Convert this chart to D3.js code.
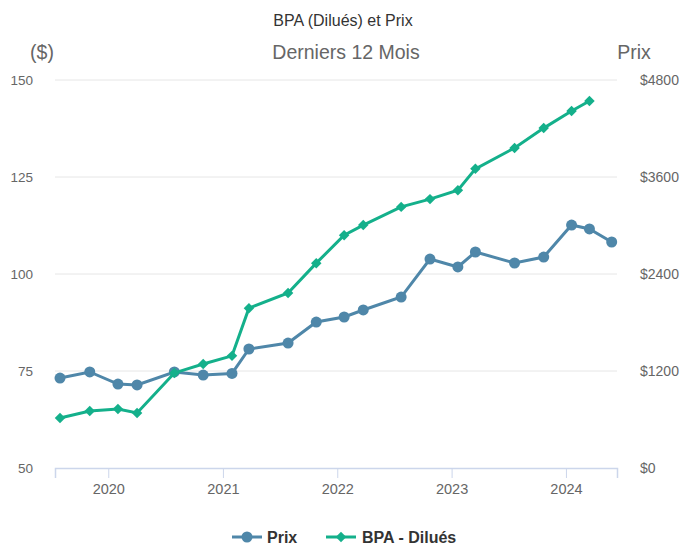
<!DOCTYPE html>
<html>
<head>
<meta charset="utf-8">
<script src="https://cdn.jsdelivr.net/npm/d3@7"></script>
<style>
  body { margin: 0; background: #fff; }
  text { font-family: "Liberation Sans", Arial, sans-serif; }
</style>
</head>
<body>
<div id="chart"></div>
<script>
// data
var priceDates = ["2019-07-31","2019-11-03","2020-02-01","2020-04-02","2020-07-30","2020-10-30","2021-01-30","2021-03-25","2021-07-28","2021-10-26","2022-01-23","2022-03-25","2022-07-24","2022-10-24","2023-01-21","2023-03-18","2023-07-21","2023-10-22","2024-01-19","2024-03-16","2024-05-26"];
var priceValues = [1113,1188,1039,1027,1188,1150,1170,1472,1546,1806,1868,1955,2115,2585,2487,2672,2536,2610,3006,2957,2796];
var epsDates = priceDates.slice(0, 20);
var epsValues = [62.9,64.7,65.2,64.2,74.5,76.8,78.9,91.2,95.1,102.8,110.0,112.6,117.3,119.3,121.6,127.1,132.5,137.6,142.0,144.6];
var leftTicks = [50, 75, 100, 125, 150];
var rightTicks = [0, 1200, 2400, 3600, 4800];
var seriesNames = ["Prix", "BPA - Dilués"];

var W = 685, H = 546;
var margin = {top: 80, right: 68, bottom: 78, left: 55},
    width = W - margin.left - margin.right,
    height = H - margin.top - margin.bottom;

var blue = "#4f87a9", green = "#14b08b";
var parse = d3.timeParse("%Y-%m-%d");

var svg = d3.select("#chart")
  .append("svg")
    .attr("width", W)
    .attr("height", H);

// titles
svg.append("text").attr("x", 343).attr("y", 26).attr("text-anchor", "middle")
  .style("font-size", "16px").style("fill", "#333").text("BPA (Dilués) et Prix");
svg.append("text").attr("x", 346).attr("y", 59).attr("text-anchor", "middle")
  .style("font-size", "19.5px").style("fill", "#666").text("Derniers 12 Mois");
svg.append("text").attr("x", 42).attr("y", 59).attr("text-anchor", "middle")
  .style("font-size", "19.5px").style("fill", "#666").text("($)");
svg.append("text").attr("x", 634).attr("y", 59).attr("text-anchor", "middle")
  .style("font-size", "19.5px").style("fill", "#666").text("Prix");

var g = svg.append("g")
  .attr("transform", "translate(" + margin.left + "," + margin.top + ")");

var x = d3.scaleTime()
  .domain([parse("2019-07-15"), parse("2024-06-12")])
  .range([0, width]);
var yL = d3.scaleLinear().domain([50, 150]).range([height, 0]);
var yR = d3.scaleLinear().domain([0, 4800]).range([height, 0]);

// gridlines
g.append("g").selectAll("line")
  .data(leftTicks.slice(1))
  .enter().append("line")
    .attr("x1", 0).attr("x2", width)
    .attr("y1", d => yL(d)).attr("y2", d => yL(d))
    .style("stroke", "#e6e6e6").style("stroke-width", 1);

// left axis labels
g.append("g").selectAll("text")
  .data(leftTicks)
  .enter().append("text")
    .attr("x", -22).attr("y", d => yL(d) + 5)
    .attr("text-anchor", "end")
    .style("font-size", "13.5px").style("fill", "#666")
    .text(d => d);

// right axis labels
g.append("g").selectAll("text")
  .data(rightTicks)
  .enter().append("text")
    .attr("x", width + 23).attr("y", d => yR(d) + 5)
    .attr("text-anchor", "start")
    .style("font-size", "14px").style("fill", "#666")
    .text(d => "$" + d);

// bottom axis
var xAxis = g.append("g")
  .attr("transform", "translate(0," + height + ")")
  .call(d3.axisBottom(x).ticks(d3.timeYear.every(1)).tickFormat(d3.timeFormat("%Y")).tickSize(10).tickPadding(6));
xAxis.select(".domain").style("stroke", "#ccd6eb").style("stroke-width", 1.5);
xAxis.selectAll(".tick line").style("stroke", "#ccd6eb");
xAxis.selectAll(".tick text").style("font-size", "14.5px").style("fill", "#666")
  .style("font-family", "Liberation Sans, Arial, sans-serif");

var price = priceDates.map((d, i) => ({date: parse(d), value: priceValues[i]}));
var eps = epsDates.map((d, i) => ({date: parse(d), value: epsValues[i]}));

// price line
g.append("path")
  .datum(price)
  .attr("fill", "none")
  .attr("stroke", blue)
  .attr("stroke-width", 3)
  .attr("d", d3.line().x(d => x(d.date)).y(d => yR(d.value)));
g.append("g").selectAll("circle")
  .data(price)
  .enter().append("circle")
    .attr("cx", d => x(d.date))
    .attr("cy", d => yR(d.value))
    .attr("r", 5.5)
    .style("fill", blue);

// eps line
g.append("path")
  .datum(eps)
  .attr("fill", "none")
  .attr("stroke", green)
  .attr("stroke-width", 3)
  .attr("d", d3.line().x(d => x(d.date)).y(d => yL(d.value)));
var diamond = d3.symbol().type(d3.symbolDiamond2).size(70);
g.append("g").selectAll("path")
  .data(eps)
  .enter().append("path")
    .attr("d", diamond)
    .attr("transform", d => "translate(" + x(d.date) + "," + yL(d.value) + ")")
    .style("fill", green);

// legend
var legend = svg.append("g").attr("transform", "translate(0,537)");
legend.append("line").attr("x1", 232).attr("x2", 262).attr("y1", 0).attr("y2", 0)
  .style("stroke", blue).style("stroke-width", 3);
legend.append("circle").attr("cx", 247).attr("cy", 0).attr("r", 5.5).style("fill", blue);
legend.append("text").attr("x", 267).attr("y", 5.5).style("font-size", "16px")
  .style("font-weight", "bold").style("fill", "#333").text(seriesNames[0]);
legend.append("line").attr("x1", 326).attr("x2", 356).attr("y1", 0).attr("y2", 0)
  .style("stroke", green).style("stroke-width", 3);
legend.append("path").attr("d", diamond).attr("transform", "translate(341,0)").style("fill", green);
legend.append("text").attr("x", 362).attr("y", 5.5).style("font-size", "16px")
  .style("font-weight", "bold").style("fill", "#333").text(seriesNames[1]);
</script>
</body>
</html>
